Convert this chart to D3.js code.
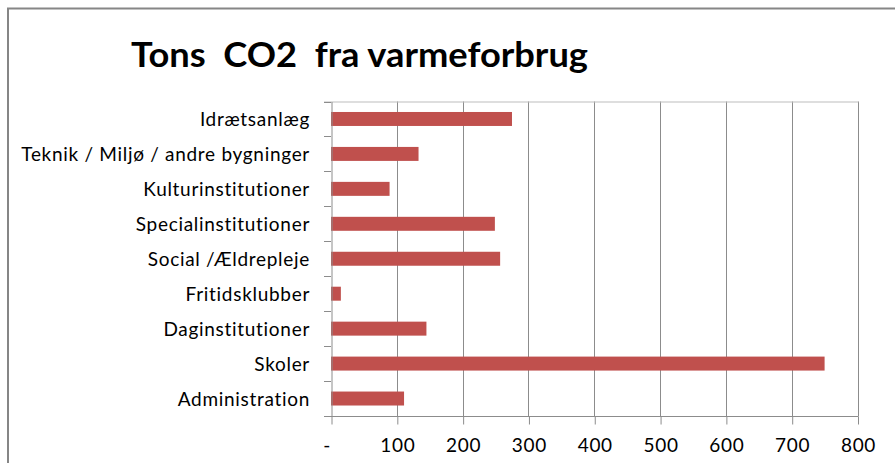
<!DOCTYPE html>
<html><head><meta charset="utf-8">
<script src="https://cdn.jsdelivr.net/npm/d3@7"></script>
<style>html,body{margin:0;padding:0;background:#fff;overflow:hidden}</style>
</head><body>
<svg id="c" width="895" height="463"></svg>
<script>
const categories = ["Idrætsanlæg","Teknik / Miljø / andre bygninger","Kulturinstitutioner","Specialinstitutioner","Social /Ældrepleje","Fritidsklubber","Daginstitutioner","Skoler","Administration"];
const values = [275, 133, 89, 249, 257, 15, 145, 750, 111];
const xTicks = [0,100,200,300,400,500,600,700,800];
const xTickLabels = ["-","100","200","300","400","500","600","700","800"];
const chartTitle = "Tons  CO2  fra varmeforbrug";

(function(){
const svg = d3.select("#c");
const font = "Lato, 'Open Sans', sans-serif";
const pLeft = 331, pRight = 857.5, pTop = 101.5, pBottom = 416;

svg.append("rect").attr("x",0).attr("y",0).attr("width",895).attr("height",463).attr("fill","#fff");
// outer frame
svg.append("path").attr("d","M8,470 L8,8.5 L900,8.5").attr("fill","none").attr("stroke","#868686").attr("stroke-width",2);

const x = d3.scaleLinear().domain([0,800]).range([pLeft,pRight]);
const y = d3.scaleBand().domain(categories).range([pTop,pBottom]).paddingInner(0.6).paddingOuter(0.3);
const yb = d3.scaleBand().domain(categories).range([pTop,pBottom]);

// gridlines
svg.append("g").selectAll("line").data(xTicks.slice(1)).join("line")
  .attr("x1",d=>Math.round(x(d))+0.5).attr("x2",d=>Math.round(x(d))+0.5)
  .attr("y1",pTop).attr("y2",pBottom).attr("stroke","#8c8c8c").attr("stroke-width",1);
// top border line
svg.append("line").attr("x1",324).attr("x2",Math.round(pRight)+0.5).attr("y1",pTop+0.5).attr("y2",pTop+0.5).attr("stroke","#bdbdbd");

// bars
svg.append("g").selectAll("rect").data(values).join("rect")
  .attr("x",x(0)).attr("y",(d,i)=>y(categories[i]))
  .attr("width",d=>x(d)-x(0)).attr("height",y.bandwidth())
  .attr("fill","#C0504D");

// y axis
const yAxis = d3.axisLeft(yb).tickSize(0).tickFormat("");
const ga = svg.append("g").attr("transform",`translate(${pLeft+0.5},0)`).call(yAxis);
ga.select(".domain").attr("stroke","#8c8c8c");
// category tick marks at band boundaries
const bounds = categories.map(c=>yb(c)).concat([pBottom]);
svg.append("g").selectAll("line").data(bounds).join("line")
  .attr("x1",324).attr("x2",pLeft).attr("y1",d=>Math.round(d)+0.5).attr("y2",d=>Math.round(d)+0.5)
  .attr("stroke","#8c8c8c");
// category labels
svg.append("g").selectAll("text").data(categories).join("text")
  .attr("x",310).attr("y",d=>yb(d)+yb.bandwidth()/2+7)
  .attr("text-anchor","end").attr("font-family",font).attr("font-size",19).attr("letter-spacing","0.7px").attr("fill","#000")
  .text(d=>d);

// x axis
const xAxis = d3.axisBottom(x).tickValues(xTicks).tickSize(8).tickFormat((d,i)=>xTickLabels[i]);
const gx = svg.append("g").attr("transform",`translate(0.5,${Math.round(pBottom)+0.5})`).call(xAxis);
gx.select(".domain").attr("d",`M${324},0H${Math.round(pRight)}`).attr("stroke","#8c8c8c");
gx.selectAll(".tick line").attr("stroke","#8c8c8c");
gx.selectAll(".tick text").attr("font-family",font).attr("font-size",19).attr("letter-spacing","0.7px").attr("fill","#000").attr("dy","24.5px")
  .attr("dx",(d)=>d===0?-5:0);

// title
svg.append("text").attr("x",131).attr("y",67).attr("font-family",font).attr("font-weight","bold")
  .attr("font-size",35).attr("fill","#000").attr("textLength",457).attr("lengthAdjust","spacingAndGlyphs")
  .style("white-space","pre").text(chartTitle);
})();
</script>
</body></html>
